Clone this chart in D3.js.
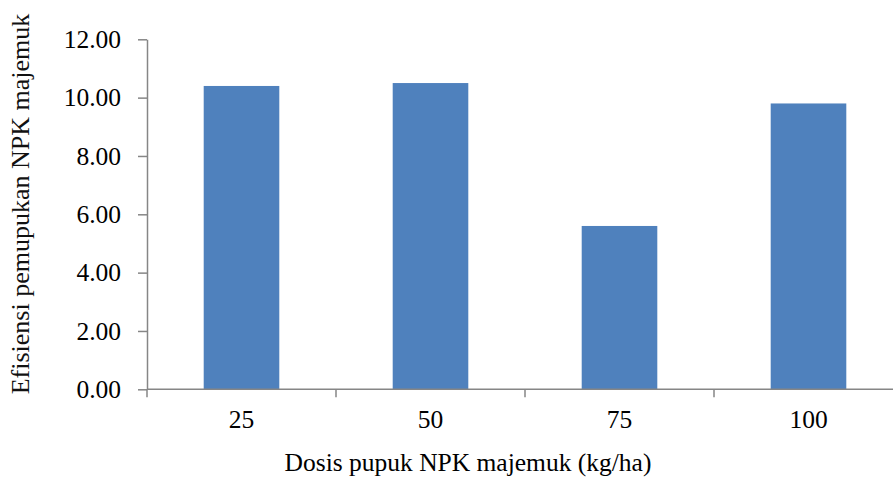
<html>
<head>
    <script src="https://d3js.org/d3.v7.min.js"></script>
    <style>
        body { margin: 0; background: #fff; }
    </style>
</head>
<body>
    <svg id="svg" width="893" height="477"></svg>
    <script>
        // DATA
        const doses = ["25", "50", "75", "100"]
        const efficiency = [10.40, 10.50, 5.60, 9.80]
        const yTicks = [0, 2, 4, 6, 8, 10, 12]

        // VARIABLES
        const plotLeft = 147, plotTop = 39.3, plotBottom = 389.3
        const axisColor = "#868686"
        const font = "'Liberation Serif', 'Times New Roman', serif"

        const x = d3.scaleBand()
            .domain(doses)
            .range([plotLeft, plotLeft + 4 * 189])
            .paddingInner(0.6)
            .paddingOuter(0.3)

        const y = d3.scaleLinear()
            .domain([0, 12])
            .range([plotBottom, plotTop])

        const svg = d3.select("#svg")

        // BARS
        svg.append("g")
            .selectAll("rect")
            .data(efficiency)
            .enter().append("rect")
            .attr("x", (d, i) => x(doses[i]))
            .attr("y", d => y(d))
            .attr("width", x.bandwidth())
            .attr("height", d => y(0) - y(d))
            .attr("fill", "#4F81BD")

        // Y AXIS
        const yAxis = svg.append("g")
            .attr("transform", `translate(${plotLeft},0)`)
            .call(d3.axisLeft(y)
                .tickValues(yTicks)
                .tickFormat(d3.format(".2f"))
                .tickSize(9)
                .tickSizeOuter(0)
                .tickPadding(17))
        yAxis.selectAll("path, line").attr("stroke", axisColor).attr("stroke-width", 1.5)
        yAxis.selectAll("text")
            .attr("fill", "#000")
            .style("font-family", font)
            .style("font-size", "25.5px")

        // X AXIS
        const step = x.step()
        const x0 = plotLeft
        const xAxis = svg.append("g")
            .attr("transform", `translate(0,${plotBottom})`)
        xAxis.append("line")
            .attr("x1", x0).attr("x2", 893)
            .attr("stroke", axisColor).attr("stroke-width", 1.5)
        xAxis.selectAll("line.tick")
            .data(d3.range(doses.length + 1))
            .enter().append("line")
            .attr("class", "tick")
            .attr("x1", i => x0 + i * step).attr("x2", i => x0 + i * step)
            .attr("y1", 0).attr("y2", 8)
            .attr("stroke", axisColor).attr("stroke-width", 1.5)
        xAxis.selectAll("text")
            .data(doses)
            .enter().append("text")
            .attr("x", d => x(d) + x.bandwidth() / 2)
            .attr("y", 39)
            .attr("text-anchor", "middle")
            .style("font-family", font)
            .style("font-size", "25.5px")
            .text(d => d)

        // AXIS TITLES
        svg.append("text")
            .attr("x", 468)
            .attr("y", 470.5)
            .attr("text-anchor", "middle")
            .style("font-family", font)
            .style("font-size", "25.5px")
            .text("Dosis pupuk NPK majemuk (kg/ha)")

        svg.append("text")
            .attr("transform", "translate(29,204) rotate(-90)")
            .attr("text-anchor", "middle")
            .style("font-family", font)
            .style("font-size", "26px")
            .attr("fill", "#111")
            .text("Efisiensi pemupukan NPK majemuk")
    </script>
</body>
</html>
